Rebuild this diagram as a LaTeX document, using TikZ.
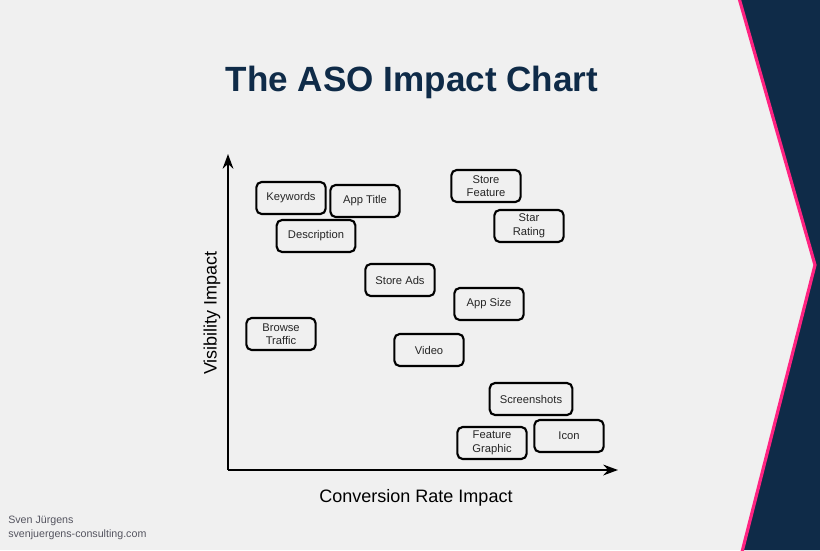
\documentclass[tikz,border=0pt]{standalone}
\usepackage{fontspec}
\setmainfont{Liberation Sans}
\usetikzlibrary{arrows.meta}
\definecolor{bg}{HTML}{F0F0F0}
\definecolor{navy}{HTML}{0F2B48}
\definecolor{pink}{HTML}{FF2381}
\definecolor{foot}{HTML}{555560}
\tikzset{
  item/.style={draw=black, line width=1.6pt, rounded corners=4pt, minimum width=52pt, minimum height=24pt, inner sep=1pt, align=center, font=\fontsize{8.4pt}{10.2pt}\selectfont, text=black!85},
  axis/.style={line width=2pt, -{Stealth[length=11pt,width=8pt]}}
}
\begin{document}
\begin{tikzpicture}[x=0.75pt,y=-0.75pt]
\useasboundingbox (0,0) rectangle (820,550);
\fill[bg] (0,0) rectangle (820,550);
\fill[navy] (739,0) -- (815,265) -- (742,550) -- (820,550) -- (820,0) -- cycle;
\draw[pink, line width=2.4pt] (739,-2) -- (815,265) -- (742,552);
\node[font=\bfseries\fontsize{26.3pt}{30pt}\selectfont, text=navy] (title) at (412,82) {The ASO Impact Chart};
\coordinate (o) at (228,470);
\coordinate (ytip) at (228,154);
\coordinate (xtip) at (618,470);
\draw[axis] (o) -- (ytip);
\draw[axis] (o) -- (xtip);
\node[font=\fontsize{13.5pt}{16pt}\selectfont, rotate=90] (ylab) at (212,313) {Visibility Impact};
\node[font=\fontsize{13.5pt}{16pt}\selectfont] (xlab) at (416,498) {Conversion Rate Impact};
\node[item] (kw) at (291,198) {Keywords};
\node[item] (at) at (365,201) {App Title};
\node[item, minimum width=59pt] (desc) at (316,236) {Description};
\node[item] (sf) at (486,186) {Store\\Feature};
\node[item] (sr) at (529,226) {Star\\Rating};
\node[item] (ads) at (400,280) {Store Ads};
\node[item] (size) at (489,304) {App Size};
\node[item] (bt) at (281,334) {Browse\\Traffic};
\node[item] (vid) at (429,350) {Video};
\node[item, minimum width=62pt] (ss) at (531,399) {Screenshots};
\node[item] (icon) at (569,436) {Icon};
\node[item] (fg) at (492,443) {Feature\\Graphic};
\node[anchor=north west, align=left, font=\fontsize{8pt}{10pt}\selectfont, text=foot, inner sep=0pt] (credit) at (8,516) {Sven Jürgens\\svenjuergens-consulting.com};
\end{tikzpicture}
\end{document}
